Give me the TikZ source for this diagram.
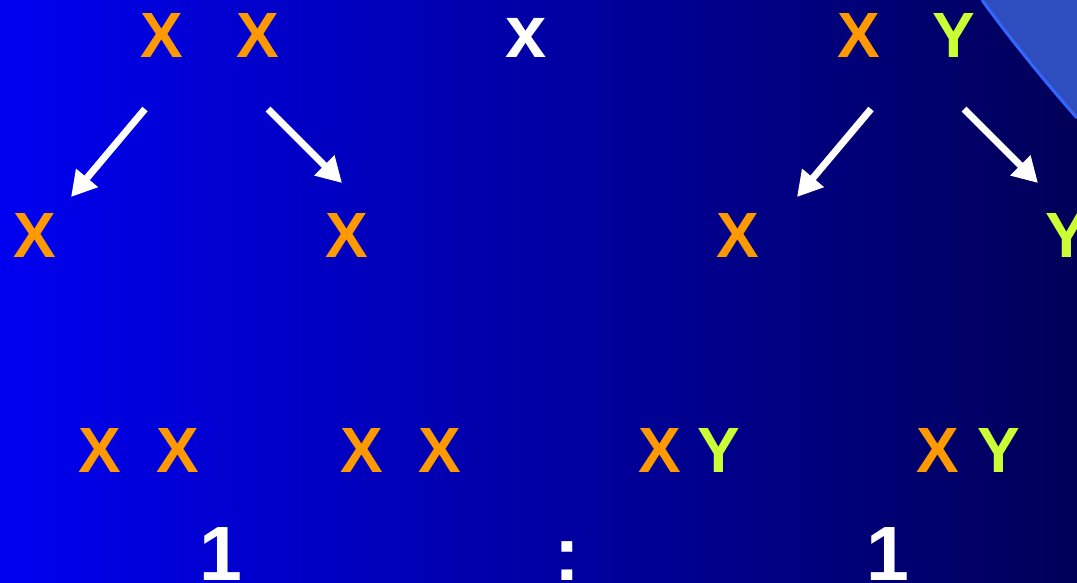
\documentclass[tikz,border=0pt]{standalone}
\usepackage{fontspec}
\setmainfont{Liberation Sans}
\usetikzlibrary{arrows.meta}
\definecolor{xorange}{RGB}{255,153,0}
\definecolor{ygreen}{RGB}{204,255,51}
\definecolor{bgleft}{RGB}{0,0,240}
\definecolor{bgmid}{RGB}{0,0,192}
\definecolor{bgright}{RGB}{0,0,88}
\definecolor{capfill}{RGB}{46,78,192}
\definecolor{capedge}{RGB}{51,102,255}
\tikzset{
  letter/.style={inner sep=0pt, outer sep=0pt, anchor=base, font=\fontsize{64}{64}\selectfont\bfseries},
  xletter/.style={letter, text=xorange},
  yletter/.style={letter, text=ygreen},
  crossletter/.style={inner sep=0pt, outer sep=0pt, anchor=base, text=white, font=\fontsize{74}{74}\selectfont\bfseries},
  ratioletter/.style={inner sep=0pt, outer sep=0pt, anchor=base, text=white, font=\fontsize{77}{77}\selectfont\bfseries},
  arrowline/.style={draw=white, line width=7pt, -{Triangle[length=25pt,width=27pt]}}
}
\begin{document}
\begin{tikzpicture}[x=1pt,y=-1pt]
\useasboundingbox (0,0) rectangle (1077,582);
\clip (0,0) rectangle (1077,582);
\shade[left color=bgleft, middle color=bgmid, right color=bgright] (0,0) rectangle (1077,582);
\fill[capfill] (982,0) .. controls (1005,32) and (1040,76) .. (1077,118) -- (1077,0) -- cycle;
\draw[capedge, line width=3pt] (982,0) .. controls (1005,32) and (1040,76) .. (1077,118);

% parents
\node[xletter] (p1) at (162,57) {X};
\node[xletter] (p2) at (258,57) {X};
\node[crossletter] (cross) at (526,57) {x};
\node[xletter] (p3) at (859,57) {X};
\node[yletter] (p4) at (954,57) {Y};

% gametes
\node[xletter] (g1) at (35,257) {X};
\node[xletter] (g2) at (347,257) {X};
\node[xletter] (g3) at (738,257) {X};
\node[yletter] (g4) at (1067,257) {Y};

% arrows
\coordinate (a1s) at (145,109);
\coordinate (a1e) at (71,197);
\coordinate (a2s) at (268,109);
\coordinate (a2e) at (342,183);
\coordinate (a3s) at (871,109);
\coordinate (a3e) at (797,197);
\coordinate (a4s) at (964,109);
\coordinate (a4e) at (1038,183);
\draw[arrowline] (a1s) -- (a1e);
\draw[arrowline] (a2s) -- (a2e);
\draw[arrowline] (a3s) -- (a3e);
\draw[arrowline] (a4s) -- (a4e);

% offspring
\node[xletter] (o1) at (100,472) {X};
\node[xletter] (o2) at (178,472) {X};
\node[xletter] (o3) at (362,472) {X};
\node[xletter] (o4) at (440,472) {X};
\node[xletter] (o5) at (660,472) {X};
\node[yletter] (o6) at (719,472) {Y};
\node[xletter] (o7) at (938,472) {X};
\node[yletter] (o8) at (999,472) {Y};

% ratio
\node[ratioletter] (r1) at (221,580) {1};
\node[ratioletter] (rc) at (567,580) {:};
\node[ratioletter] (r2) at (888,580) {1};
\end{tikzpicture}
\end{document}
